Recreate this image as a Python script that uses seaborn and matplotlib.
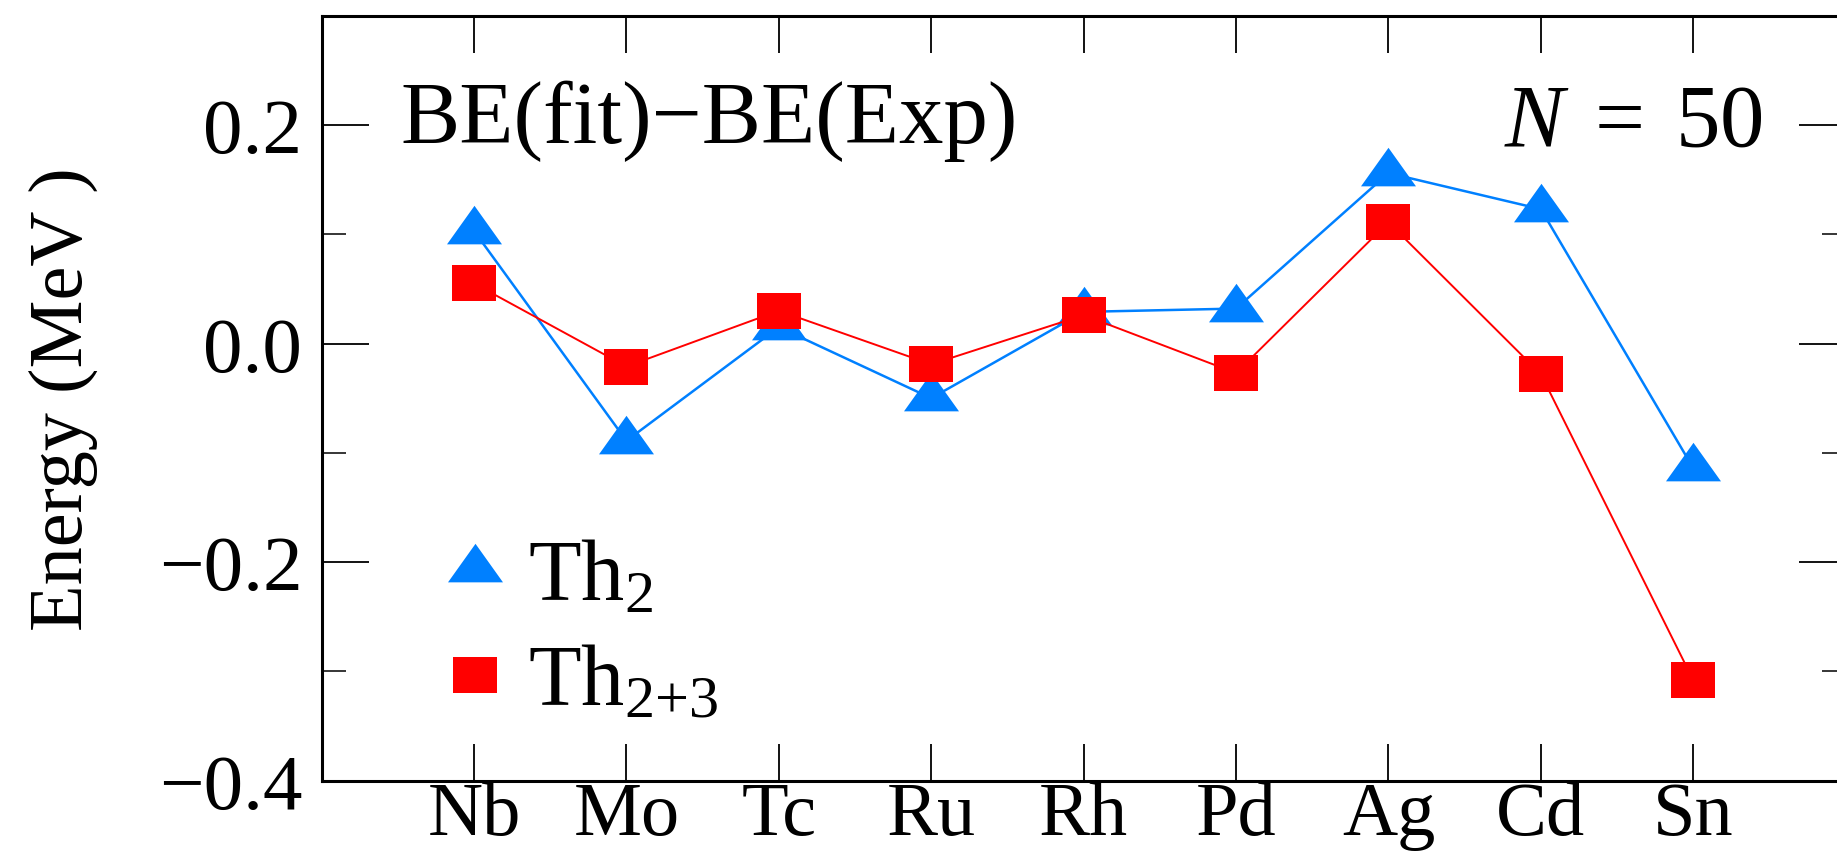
import numpy as np
import pandas as pd
import matplotlib
matplotlib.use("Agg")
import matplotlib.pyplot as plt
import seaborn as sns
from matplotlib.lines import Line2D
from matplotlib.ticker import FixedLocator, FuncFormatter

# ---- data ----
elements = ["Nb", "Mo", "Tc", "Ru", "Rh", "Pd", "Ag", "Cd", "Sn"]
th2 = [0.103, -0.089, 0.015, -0.050, 0.029, 0.032, 0.156, 0.123, -0.114]
th23 = [0.055, -0.021, 0.030, -0.019, 0.026, -0.027, 0.111, -0.028, -0.308]
yticks_major = [-0.4, -0.2, 0.0, 0.2]
yticks_minor = [-0.3, -0.1, 0.1]
label_th2 = "Th$_2$"
label_th23 = "Th$_{2{+}3}$"
title_left = "BE(fit)\u2212BE(Exp)"
title_right = "$N\\;=\\;50$"
ylabel = "Energy (MeV )"

BLUE = "#0080FF"
RED = "#FF0000"

sns.set_theme(style="ticks")
plt.rcParams["font.family"] = ["Liberation Serif", "DejaVu Serif"]
plt.rcParams["mathtext.fontset"] = "custom"
plt.rcParams["mathtext.rm"] = "Liberation Serif"
plt.rcParams["mathtext.it"] = "Liberation Serif:italic"
plt.rcParams["mathtext.bf"] = "Liberation Serif:bold"
plt.rcParams["axes.unicode_minus"] = True

tri = [(0, 1), (-1.07, -0.5), (1.07, -0.5)]
sq = [(-1, -0.83), (1, -0.83), (1, 0.83), (-1, 0.83)]

fig = plt.figure(figsize=(18.37, 8.62), dpi=100)
ax = fig.add_axes([0.1751, 0.0932, 0.8296, 0.8874])

df = pd.DataFrame({"element": elements, "th2": th2, "th23": th23})
xpos = np.arange(len(elements))

sns.lineplot(x=xpos, y=df["th2"], ax=ax, color=BLUE, lw=1.8, marker=tri,
             markersize=39.6, markeredgewidth=0, sort=False, zorder=3)
sns.lineplot(x=xpos, y=df["th23"], ax=ax, color=RED, lw=1.4, marker=sq,
             markersize=31, markeredgewidth=0, sort=False, zorder=4)

ax.set_xlim(-1, len(elements))
ax.set_ylim(-0.4, 0.3)
ax.set_xticks(xpos)
ax.set_xticklabels(elements)
ax.yaxis.set_major_locator(FixedLocator(yticks_major))
ax.yaxis.set_minor_locator(FixedLocator(yticks_minor))
ax.yaxis.set_major_formatter(FuncFormatter(lambda v, p: f"{v:.1f}".replace("-", "\u2212")))

for s in ax.spines.values():
    s.set_linewidth(2.2)
    s.set_color("black")

ax.tick_params(axis="x", which="major", direction="in", length=26.6, width=1.3,
               top=True, bottom=True, labelsize=55, pad=0, colors="black")
ax.tick_params(axis="y", which="major", direction="in", length=34, width=1.3,
               left=True, right=True, labelsize=57, pad=14, colors="black")
ax.tick_params(axis="y", which="minor", direction="in", length=17, width=1.3,
               left=True, right=True)

ax.set_xlabel("")
ax.set_ylabel(ylabel, fontsize=55, color="black")
ax.yaxis.set_label_coords(-0.147, 0.5)

ax.text(0.0514, 0.835, title_left, transform=ax.transAxes, fontsize=64,
        ha="left", va="baseline", color="black")
ax.text(0.9457, 0.832, title_right, transform=ax.transAxes, fontsize=64,
        ha="right", va="baseline", color="black")

handles = [
    Line2D([], [], color=BLUE, marker=tri, markersize=39.6, markeredgewidth=0, linestyle="none"),
    Line2D([], [], color=RED, marker=sq, markersize=31, markeredgewidth=0, linestyle="none"),
]
leg = ax.legend(handles, [label_th2, label_th23], loc="upper left",
                bbox_to_anchor=(0.078, 0.316), frameon=False, fontsize=62,
                handlelength=0.8, handletextpad=0.22, labelspacing=0.3,
                borderpad=0, borderaxespad=0, numpoints=1)
for t in leg.get_texts():
    t.set_color("black")

ax.set_facecolor("white")
fig.patch.set_facecolor("white")
fig.savefig("out.png", dpi=100, facecolor="white")
